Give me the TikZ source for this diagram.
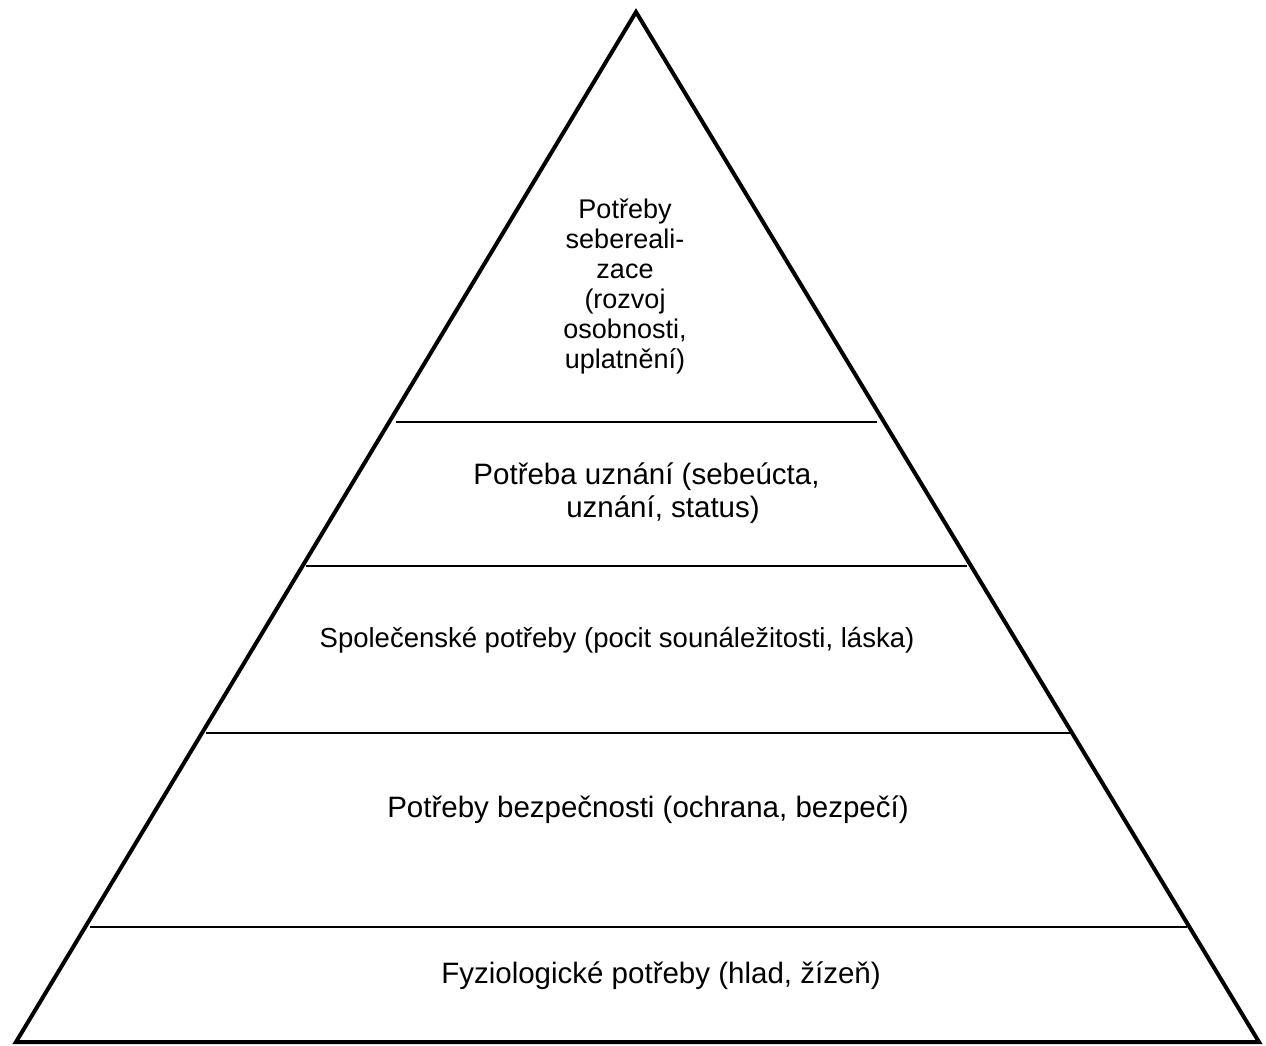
\documentclass[tikz,border=0pt]{standalone}
\usepackage{fontspec}
\setmainfont{Liberation Sans}
\newcommand{\pyrtopfont}{\fontsize{27}{30}\selectfont\lineskiplimit=-100pt\relax\lineskip=0pt\relax}
\begin{document}
\begin{tikzpicture}[x=1pt,y=-1pt,
  edge/.style={line width=4pt,line join=miter},
  level/.style={line width=1.6pt},
  lbl/.style={inner sep=0pt,align=center,font=\fontsize{29.5}{33}\selectfont},
  lbltop/.style={inner sep=0pt,align=center,font=\pyrtopfont},
  lblsmall/.style={inner sep=0pt,align=center,font=\fontsize{27.5}{33}\selectfont}]
\useasboundingbox (0,0) rectangle (1266,1046);
\coordinate (apex) at (636,12);
\coordinate (bl) at (16,1042);
\coordinate (br) at (1259,1042);
\draw[edge] (bl) -- (apex) -- (br) -- cycle;
% level lines
\coordinate (l1a) at (396,422); \coordinate (l1b) at (877,422);
\coordinate (l2a) at (306,566); \coordinate (l2b) at (967,566);
\coordinate (l3a) at (206,733); \coordinate (l3b) at (1070,733);
\coordinate (l4a) at (90,927);  \coordinate (l4b) at (1187,927);
\draw[level] (l1a) -- (l1b);
\draw[level] (l2a) -- (l2b);
\draw[level] (l3a) -- (l3b);
\draw[level] (l4a) -- (l4b);
\node[lbltop] (t1) at (625,286) {Potřeby\\sebereali-\\zace\\(rozvoj\\osobnosti,\\uplatnění)};
\node[lbl] (t2a) at (646.5,477) {Potřeba uznání (sebeúcta,};
\node[lbl] (t2b) at (663,510) {uznání, status)};
\node[lblsmall] (t3) at (617,640) {Společenské potřeby (pocit sounáležitosti, láska)};
\node[lbl] (t4) at (648,810) {Potřeby bezpečnosti (ochrana, bezpečí)};
\node[lbl] (t5) at (661,976) {Fyziologické potřeby (hlad, žízeň)};
\end{tikzpicture}
\end{document}
